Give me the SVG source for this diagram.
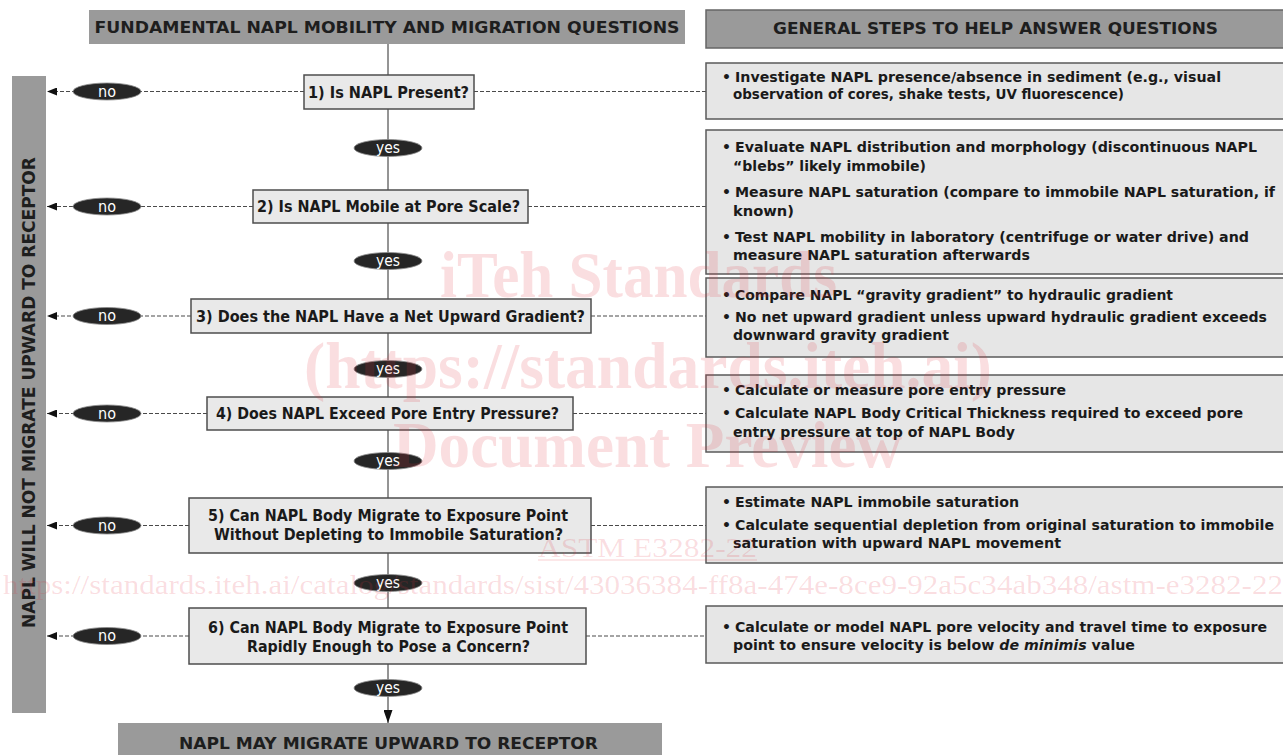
<svg xmlns="http://www.w3.org/2000/svg" width="1283" height="755" viewBox="0 0 1283 755">
<style>
.hdr{fill:#9a9a9a}
.hdrt{font-family:"DejaVu Sans",sans-serif;font-weight:bold;font-size:16px;fill:#1e1e1e}
.node rect{fill:#e9e9e9;stroke:#4d4d4d;stroke-width:1.5}
.nt{font-family:"DejaVu Sans",sans-serif;font-weight:bold;font-size:16px;fill:#1a1a1a;text-anchor:middle}
.step rect{fill:#e6e6e6;stroke:#5a5a5a;stroke-width:1.5}
.st{font-family:"DejaVu Sans",sans-serif;font-weight:bold;font-size:14px;fill:#1a1a1a}
.solid{stroke:#2a2a2a;stroke-width:1;fill:none}
.dash{stroke:#4a4a4a;stroke-width:1.1;stroke-dasharray:4 2;fill:none}
.lbl{fill:#262626;stroke:#8a8a8a;stroke-width:0.8}
.lt{font-family:"DejaVu Sans",sans-serif;font-size:15px;fill:#fff;text-anchor:middle}
.wm{font-family:"Liberation Serif",serif;font-weight:bold;fill:#e0303f;fill-opacity:0.16}
</style>
<defs>
<marker id="arrL" viewBox="0 0 10 8" refX="10" refY="4" markerWidth="10" markerHeight="8" orient="auto" markerUnits="userSpaceOnUse"><path d="M0,0 L10,4 L0,8 z" fill="#111"/></marker>
<marker id="arrD" viewBox="0 0 13 9" refX="13" refY="4.5" markerWidth="13" markerHeight="9" orient="auto" markerUnits="userSpaceOnUse"><path d="M0,0 L13,4.5 L0,9 z" fill="#111"/></marker>
</defs>
<rect width="1283" height="755" fill="#fff"/>

<g id="header-left"><rect class="hdr" x="89" y="10" width="596" height="34"/><text class="hdrt" x="387" y="33" text-anchor="middle" textLength="585" lengthAdjust="spacingAndGlyphs">FUNDAMENTAL NAPL MOBILITY AND MIGRATION QUESTIONS</text></g>
<g id="header-right"><rect class="hdr" x="706" y="10" width="590" height="38" stroke="#666" stroke-width="1.5"/><text class="hdrt" x="995.5" y="34" text-anchor="middle" textLength="445" lengthAdjust="spacingAndGlyphs">GENERAL STEPS TO HELP ANSWER QUESTIONS</text></g>
<g id="bar-left"><rect class="hdr" x="12" y="76" width="34" height="637"/><text class="hdrt" transform="translate(35,392.5) rotate(-90)" text-anchor="middle" textLength="471" lengthAdjust="spacingAndGlyphs" style="font-size:17px">NAPL WILL NOT MIGRATE UPWARD TO RECEPTOR</text></g>
<g id="result-bottom"><rect class="hdr" x="118" y="723" width="544" height="40"/><text class="hdrt" x="388.5" y="749" text-anchor="middle" textLength="419" lengthAdjust="spacingAndGlyphs">NAPL MAY MIGRATE UPWARD TO RECEPTOR</text></g>

<g id="connectors">
<line class="solid" x1="388" y1="44" x2="388" y2="75"/>
<line class="solid" x1="388" y1="109" x2="388" y2="190"/>
<line class="solid" x1="388" y1="223" x2="388" y2="299"/>
<line class="solid" x1="388" y1="333" x2="388" y2="397"/>
<line class="solid" x1="388" y1="430" x2="388" y2="498"/>
<line class="solid" x1="388" y1="553" x2="388" y2="608"/>
<line class="solid" x1="388" y1="664" x2="388" y2="723" marker-end="url(#arrD)"/>
<line class="dash" x1="304" y1="91.5" x2="47" y2="91.5" marker-end="url(#arrL)"/>
<line class="dash" x1="253" y1="206.5" x2="47" y2="206.5" marker-end="url(#arrL)"/>
<line class="dash" x1="191" y1="316" x2="47" y2="316" marker-end="url(#arrL)"/>
<line class="dash" x1="207" y1="413.5" x2="47" y2="413.5" marker-end="url(#arrL)"/>
<line class="dash" x1="189" y1="525.5" x2="47" y2="525.5" marker-end="url(#arrL)"/>
<line class="dash" x1="189" y1="636" x2="47" y2="636" marker-end="url(#arrL)"/>
<line class="dash" x1="474" y1="91.5" x2="706" y2="91.5"/>
<line class="dash" x1="528" y1="206.5" x2="706" y2="206.5"/>
<line class="dash" x1="591" y1="316" x2="706" y2="316"/>
<line class="dash" x1="573" y1="413.5" x2="706" y2="413.5"/>
<line class="dash" x1="591" y1="525.5" x2="706" y2="525.5"/>
<line class="dash" x1="586" y1="636" x2="706" y2="636"/>
<g id="labels-no">
<ellipse class="lbl" cx="107" cy="91.5" rx="34" ry="8.5"/><text class="lt" x="107" y="96.5" textLength="18" lengthAdjust="spacingAndGlyphs">no</text>
<ellipse class="lbl" cx="107" cy="206.5" rx="34" ry="8.5"/><text class="lt" x="107" y="211.5" textLength="18" lengthAdjust="spacingAndGlyphs">no</text>
<ellipse class="lbl" cx="107" cy="316" rx="34" ry="8.5"/><text class="lt" x="107" y="321" textLength="18" lengthAdjust="spacingAndGlyphs">no</text>
<ellipse class="lbl" cx="107" cy="413.5" rx="34" ry="8.5"/><text class="lt" x="107" y="418.5" textLength="18" lengthAdjust="spacingAndGlyphs">no</text>
<ellipse class="lbl" cx="107" cy="525.5" rx="34" ry="8.5"/><text class="lt" x="107" y="530.5" textLength="18" lengthAdjust="spacingAndGlyphs">no</text>
<ellipse class="lbl" cx="107" cy="636" rx="34" ry="8.5"/><text class="lt" x="107" y="641" textLength="18" lengthAdjust="spacingAndGlyphs">no</text>
</g>
<g id="labels-yes">
<ellipse class="lbl" cx="388" cy="148" rx="34" ry="8.5"/><text class="lt" x="388" y="153" textLength="24" lengthAdjust="spacingAndGlyphs">yes</text>
<ellipse class="lbl" cx="388" cy="261" rx="34" ry="8.5"/><text class="lt" x="388" y="266" textLength="24" lengthAdjust="spacingAndGlyphs">yes</text>
<ellipse class="lbl" cx="388" cy="369" rx="34" ry="8.5"/><text class="lt" x="388" y="374" textLength="24" lengthAdjust="spacingAndGlyphs">yes</text>
<ellipse class="lbl" cx="388" cy="461" rx="34" ry="8.5"/><text class="lt" x="388" y="466" textLength="24" lengthAdjust="spacingAndGlyphs">yes</text>
<ellipse class="lbl" cx="388" cy="583" rx="34" ry="8.5"/><text class="lt" x="388" y="588" textLength="24" lengthAdjust="spacingAndGlyphs">yes</text>
<ellipse class="lbl" cx="388" cy="688" rx="34" ry="8.5"/><text class="lt" x="388" y="693" textLength="24" lengthAdjust="spacingAndGlyphs">yes</text>
</g>
</g>

<g id="q1" class="node"><rect x="304" y="75" width="170" height="34"/><text class="nt" x="388.5" y="97.5" textLength="161" lengthAdjust="spacingAndGlyphs">1) Is NAPL Present?</text></g>
<g id="q2" class="node"><rect x="253" y="190" width="275" height="33"/><text class="nt" x="388.5" y="212" textLength="263" lengthAdjust="spacingAndGlyphs">2) Is NAPL Mobile at Pore Scale?</text></g>
<g id="q3" class="node"><rect x="191" y="299" width="400" height="34"/><text class="nt" x="390.5" y="321.5" textLength="389" lengthAdjust="spacingAndGlyphs">3) Does the NAPL Have a Net Upward Gradient?</text></g>
<g id="q4" class="node"><rect x="207" y="397" width="366" height="33"/><text class="nt" x="387.5" y="419" textLength="343" lengthAdjust="spacingAndGlyphs">4) Does NAPL Exceed Pore Entry Pressure?</text></g>
<g id="q5" class="node"><rect x="189" y="498" width="402" height="55"/><text class="nt" x="388" y="520.5" textLength="360" lengthAdjust="spacingAndGlyphs">5) Can NAPL Body Migrate to Exposure Point</text><text class="nt" x="388.5" y="539.5" textLength="349" lengthAdjust="spacingAndGlyphs">Without Depleting to Immobile Saturation?</text></g>
<g id="q6" class="node"><rect x="189" y="608" width="397" height="56"/><text class="nt" x="388" y="632.5" textLength="360" lengthAdjust="spacingAndGlyphs">6) Can NAPL Body Migrate to Exposure Point</text><text class="nt" x="388.5" y="651.5" textLength="283" lengthAdjust="spacingAndGlyphs">Rapidly Enough to Pose a Concern?</text></g>

<g id="s1" class="step"><rect x="706" y="63" width="590" height="56"/>
<text class="st" x="722" y="82">•</text><text class="st" x="735" y="82" textLength="486" lengthAdjust="spacingAndGlyphs">Investigate NAPL presence/absence in sediment (e.g., visual</text>
<text class="st" x="733" y="99" textLength="391" lengthAdjust="spacingAndGlyphs">observation of cores, shake tests, UV fluorescence)</text></g>
<g id="s2" class="step"><rect x="706" y="130" width="590" height="144"/>
<text class="st" x="722" y="152">•</text><text class="st" x="735" y="152" textLength="522" lengthAdjust="spacingAndGlyphs">Evaluate NAPL distribution and morphology (discontinuous NAPL</text>
<text class="st" x="733" y="171" textLength="193" lengthAdjust="spacingAndGlyphs">“blebs” likely immobile)</text>
<text class="st" x="722" y="197">•</text><text class="st" x="735" y="197" textLength="540" lengthAdjust="spacingAndGlyphs">Measure NAPL saturation (compare to immobile NAPL saturation, if</text>
<text class="st" x="733" y="216" textLength="61" lengthAdjust="spacingAndGlyphs">known)</text>
<text class="st" x="722" y="242">•</text><text class="st" x="735" y="242" textLength="514" lengthAdjust="spacingAndGlyphs">Test NAPL mobility in laboratory (centrifuge or water drive) and</text>
<text class="st" x="733" y="260" textLength="297" lengthAdjust="spacingAndGlyphs">measure NAPL saturation afterwards</text></g>
<g id="s3" class="step"><rect x="706" y="278" width="590" height="79"/>
<text class="st" x="722" y="300">•</text><text class="st" x="735" y="300" textLength="438" lengthAdjust="spacingAndGlyphs">Compare NAPL “gravity gradient” to hydraulic gradient</text>
<text class="st" x="722" y="322">•</text><text class="st" x="735" y="322" textLength="532" lengthAdjust="spacingAndGlyphs">No net upward gradient unless upward hydraulic gradient exceeds</text>
<text class="st" x="733" y="340" textLength="216" lengthAdjust="spacingAndGlyphs">downward gravity gradient</text></g>
<g id="s4" class="step"><rect x="706" y="375" width="590" height="77"/>
<text class="st" x="722" y="395">•</text><text class="st" x="735" y="395" textLength="331" lengthAdjust="spacingAndGlyphs">Calculate or measure pore entry pressure</text>
<text class="st" x="722" y="418">•</text><text class="st" x="735" y="418" textLength="508" lengthAdjust="spacingAndGlyphs">Calculate NAPL Body Critical Thickness required to exceed pore</text>
<text class="st" x="733" y="437" textLength="282" lengthAdjust="spacingAndGlyphs">entry pressure at top of NAPL Body</text></g>
<g id="s5" class="step"><rect x="706" y="487" width="590" height="76"/>
<text class="st" x="722" y="507">•</text><text class="st" x="735" y="507" textLength="284" lengthAdjust="spacingAndGlyphs">Estimate NAPL immobile saturation</text>
<text class="st" x="722" y="530">•</text><text class="st" x="735" y="530" textLength="539" lengthAdjust="spacingAndGlyphs">Calculate sequential depletion from original saturation to immobile</text>
<text class="st" x="733" y="548" textLength="328" lengthAdjust="spacingAndGlyphs">saturation with upward NAPL movement</text></g>
<g id="s6" class="step"><rect x="706" y="606" width="590" height="57"/>
<text class="st" x="722" y="632">•</text><text class="st" x="735" y="632" textLength="532" lengthAdjust="spacingAndGlyphs">Calculate or model NAPL pore velocity and travel time to exposure</text>
<text class="st" x="733" y="650" textLength="402" lengthAdjust="spacingAndGlyphs">point to ensure velocity is below <tspan font-style="italic">de minimis</tspan> value</text></g>

<g id="watermark">
<text class="wm" x="440" y="297" font-size="66" textLength="397" lengthAdjust="spacingAndGlyphs">iTeh Standards</text>
<text class="wm" x="304" y="388" font-size="66" textLength="688" lengthAdjust="spacingAndGlyphs">(https://standards.iteh.ai)</text>
<text class="wm" x="393" y="467" font-size="66" textLength="509" lengthAdjust="spacingAndGlyphs">Document Preview</text>
<text class="wm" x="538" y="557" font-size="27" style="font-weight:normal" textLength="219" lengthAdjust="spacingAndGlyphs">ASTM E3282-22</text>
<line x1="538" y1="560" x2="757" y2="560" stroke="#e0303f" stroke-opacity="0.16" stroke-width="1.5"/>
<text class="wm" x="3" y="594" font-size="28" style="font-weight:normal" textLength="1280" lengthAdjust="spacingAndGlyphs">https://standards.iteh.ai/catalog/standards/sist/43036384-ff8a-474e-8ce9-92a5c34ab348/astm-e3282-22</text>
</g>
</svg>
